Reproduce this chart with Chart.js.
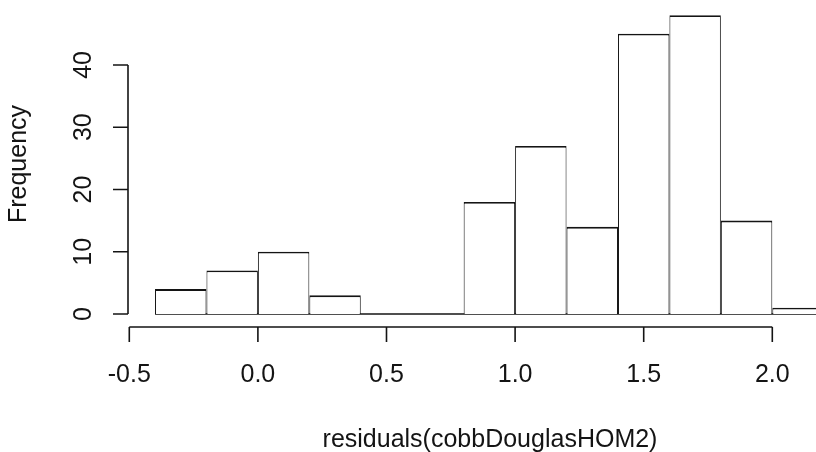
<!DOCTYPE html>
<html>
<head>
<meta charset="utf-8">
<script src="https://cdn.jsdelivr.net/npm/chart.js@4/dist/chart.umd.min.js"></script>
<style>
  html, body { margin: 0; padding: 0; background: #fff; }
</style>
</head>
<body>
<canvas id="hist" width="816" height="452"></canvas>
<script>
// histogram bins (left edges, width 0.2) and counts
var binStart = [-0.4, -0.2, 0.0, 0.2, 0.4, 0.6, 0.8, 1.0, 1.2, 1.4, 1.6, 1.8, 2.0];
var binWidth = 0.2;
var counts = [4, 7, 10, 3, 0, 0, 18, 27, 14, 45, 48, 15, 1];

var xTicks = [-0.5, 0.0, 0.5, 1.0, 1.5, 2.0];
var yTicks = [0, 10, 20, 30, 40];
var xLabel = 'residuals(cobbDouglasHOM2)';
var yLabel = 'Frequency';

var edges = binStart.concat([binStart[binStart.length - 1] + binWidth]);

var bars = binStart.map(function(b, i) {
   return { x: b + binWidth / 2, y: counts[i] };
});
var baseline = [
   { x: edges[0], y: 0 },
   { x: edges[edges.length - 1], y: 0 }
];

var FONT = '25px "Liberation Sans", Arial, sans-serif';
var INK = '#141414';

// base-graphics style axes, detached from the plot box
var rAxes = {
   id: 'rAxes',
   afterDraw: function(chart) {
      var ctx = chart.ctx;
      var xs = chart.scales.x, ys = chart.scales.y;
      ctx.save();
      ctx.strokeStyle = INK;
      ctx.fillStyle = INK;
      ctx.lineWidth = 1.6;
      ctx.font = FONT;

      // left axis
      var ax = 128;
      var y0 = ys.getPixelForValue(yTicks[0]);
      var y1 = ys.getPixelForValue(yTicks[yTicks.length - 1]);
      ctx.beginPath();
      ctx.moveTo(ax, y0);
      ctx.lineTo(ax, y1);
      yTicks.forEach(function(v) {
         var py = ys.getPixelForValue(v);
         ctx.moveTo(ax - 15, py);
         ctx.lineTo(ax, py);
      });
      ctx.stroke();
      ctx.textAlign = 'center';
      ctx.textBaseline = 'alphabetic';
      yTicks.forEach(function(v) {
         var py = ys.getPixelForValue(v);
         ctx.save();
         ctx.translate(91, py);
         ctx.rotate(-Math.PI / 2);
         ctx.fillText(String(v), 0, 0);
         ctx.restore();
      });

      // bottom axis
      var ay = 327;
      var x0 = xs.getPixelForValue(xTicks[0]);
      var x1 = xs.getPixelForValue(xTicks[xTicks.length - 1]);
      ctx.beginPath();
      ctx.moveTo(x0, ay);
      ctx.lineTo(x1, ay);
      xTicks.forEach(function(v) {
         var px = xs.getPixelForValue(v);
         ctx.moveTo(px, ay);
         ctx.lineTo(px, ay + 15);
      });
      ctx.stroke();
      xTicks.forEach(function(v) {
         ctx.fillText(v.toFixed(1), xs.getPixelForValue(v), 382);
      });

      // axis titles
      ctx.fillText(xLabel, 490, 447);
      ctx.save();
      ctx.translate(26, 164);
      ctx.rotate(-Math.PI / 2);
      ctx.fillText(yLabel, 0, 0);
      ctx.restore();

      ctx.restore();
   }
};

var ctx = document.getElementById('hist').getContext('2d');
var chart = new Chart(ctx, {
   type: 'bar',
   data: {
      datasets: [{
         type: 'bar',
         data: bars,
         backgroundColor: '#ffffff',
         borderColor: INK,
         borderWidth: { top: 1.8, left: 1, right: 1, bottom: 0 },
         borderSkipped: false,
         inflateAmount: 0,
         barPercentage: 1,
         categoryPercentage: 1
      }, {
         type: 'line',
         data: baseline,
         borderColor: INK,
         borderWidth: 1.6,
         pointRadius: 0,
         fill: false
      }]
   },
   options: {
      responsive: false,
      animation: false,
      events: [],
      layout: { padding: 0 },
      plugins: {
         legend: { display: false },
         tooltip: { enabled: false }
      },
      scales: {
         x: {
            type: 'linear',
            display: false,
            offset: false,
            min: -1.0027,
            max: 2.1699,
            // use the bin edges as ticks so bar widths equal the bin width
            afterBuildTicks: function(axis) {
               axis.ticks = edges.map(function(v) { return { value: v }; });
            }
         },
         y: {
            type: 'linear',
            display: false,
            min: -22.16,
            max: 50.43
         }
      }
   },
   plugins: [rAxes]
});
</script>
</body>
</html>
